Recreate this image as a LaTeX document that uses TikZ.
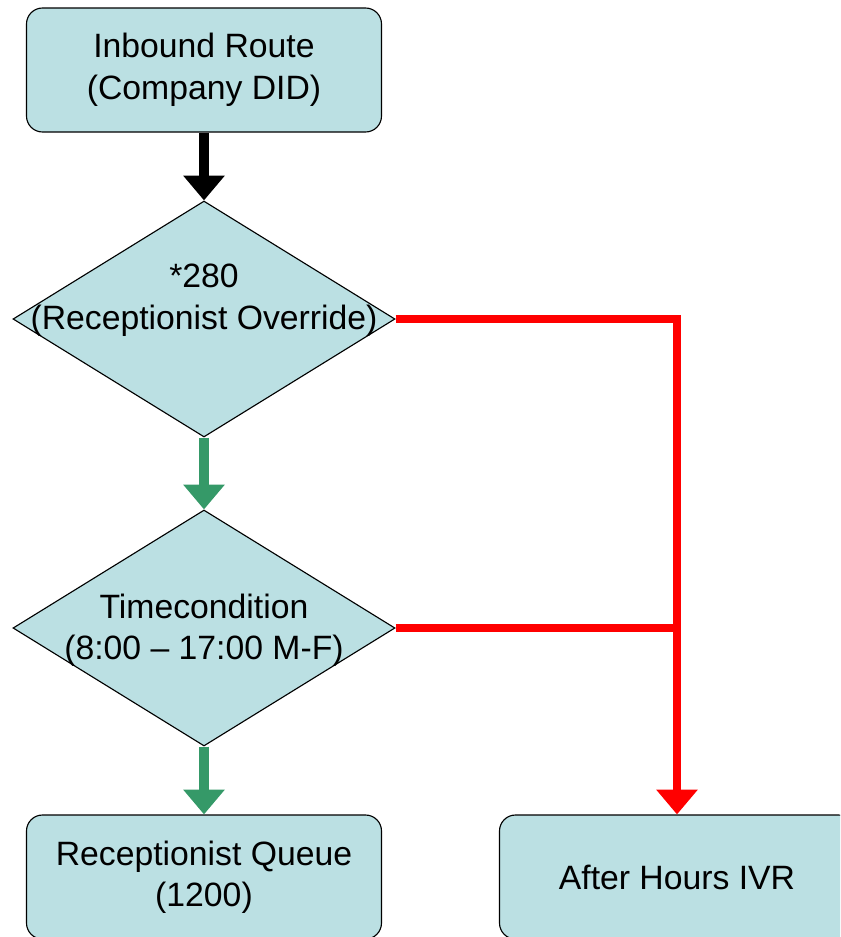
\documentclass[tikz,border=0pt]{standalone}
\usepackage{fontspec}
\setmainfont{Liberation Sans}
\usepackage{tikz}
\usetikzlibrary{shapes.geometric, positioning, arrows.meta}
\definecolor{boxfill}{RGB}{187,224,227}
\definecolor{gogreen}{RGB}{53,153,104}
\tikzset{
	block/.style={draw, thick, fill=boxfill, rounded corners=0.4cm, minimum width=8.875cm, minimum height=3.1cm, align=center}, % the route boxes
	choice/.style={draw, thick, fill=boxfill, diamond, minimum width=9.55cm, minimum height=5.9cm, inner sep=0pt}, % the decisions
	txt/.style={align=center, inner sep=0pt},
	flow/.style={line width=0.25cm, -{Triangle[width=1cm, length=0.62cm]}}, % makes the arrows thick
	font=\fontsize{24pt}{29.5pt}\selectfont,
}

\begin{document}
\begin{tikzpicture}[node distance=6.225cm, on grid]
		\path[use as bounding box, clip] (0,0) rectangle (21,-23.425);
		% Define nodes
		\node[block] (inbound) at (5.1,-1.75) {Inbound Route\\(Company DID)};
		\node[choice, below=of inbound] (override) {};
		\node[choice, below=7.725cm of override] (timecond) {};
		\node[block, below=of timecond] (queue) {Receptionist Queue\\(1200)};
		\node[block, right=11.825cm of queue] (ivr) {After Hours IVR};
		\node[txt] (overridetxt) at ([yshift=0.475cm]override.center) {*280\\(Receptionist Override)};
		\node[txt] (timecondtxt) at ([yshift=-0.05cm]timecond.center) {Timecondition\\(8:00 – 17:00 M-F)};
		
		% Connections
		\draw[flow, black] (inbound) -- (override);
		\draw[flow, gogreen] (override) -- (timecond);
		\draw[flow, gogreen] (timecond) -- (queue);
		\draw[flow, red, line width=0.2cm] (override.east) -| (ivr.north);
		\draw[red, line width=0.2cm] (timecond.east) -- (timecond.east -| ivr.north);
	\end{tikzpicture}
\end{document}
